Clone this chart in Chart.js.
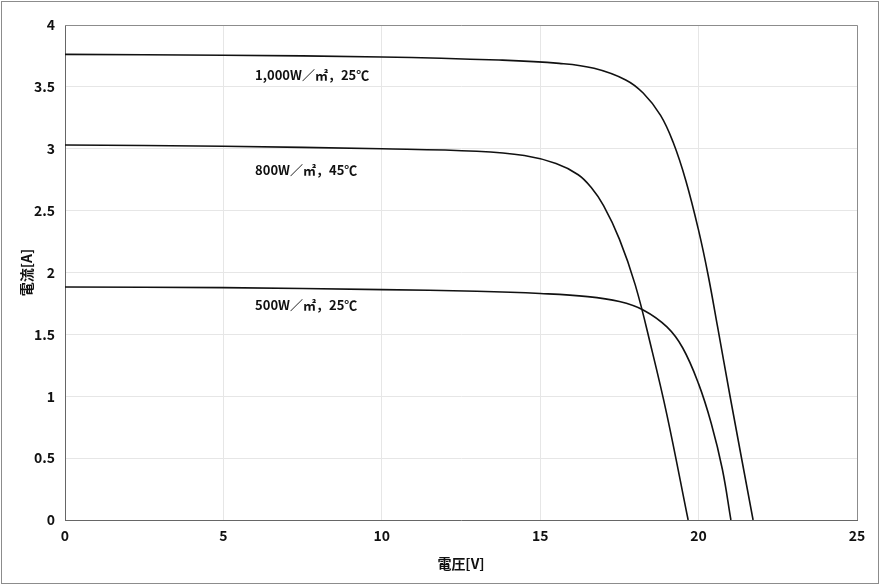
<!DOCTYPE html>
<html>
<head>
<meta charset="utf-8">
<script src="https://cdn.jsdelivr.net/npm/chart.js@4"></script>
<style>
  html, body { margin: 0; padding: 0; background: #fff; }
  #wrap { width: 881px; height: 585px; }
</style>
</head>
<body>
<div id="wrap"><canvas id="c" width="881" height="585"></canvas></div>
<script>
// ---- data ----
const seriesNames = ["1,000W／㎡，25℃", "800W／㎡，45℃", "500W／㎡，25℃"];
const v1000 = [0, 5, 10, 13.7, 15.6, 16.7, 17.7, 18.25, 18.8, 19.2, 19.6, 20.0, 20.3, 20.6, 21.0, 21.72];
const i1000 = [3.763, 3.755, 3.742, 3.717, 3.69, 3.65, 3.556, 3.45, 3.27, 3.05, 2.74, 2.34, 1.98, 1.56, 0.99, 0];
const v800 = [0, 5, 10, 13, 14.5, 15.5, 16.2, 16.6, 17.0, 17.5, 18.0, 18.5, 19.0, 19.67];
const i800 = [3.03, 3.02, 3.0, 2.98, 2.945, 2.88, 2.79, 2.69, 2.54, 2.27, 1.9, 1.4, 0.85, 0];
const v500 = [0, 5, 10, 13, 15, 16.5, 17.5, 18.25, 19.0, 19.5, 20.0, 20.4, 20.75, 21.02];
const i500 = [1.883, 1.878, 1.862, 1.848, 1.83, 1.805, 1.765, 1.697, 1.56, 1.39, 1.10, 0.78, 0.41, 0];
// label anchor positions (in data units)
const labelV = [6.0, 6.0, 6.0];
const labelI = [3.596, 2.828, 1.737];
const xTicks = [0, 5, 10, 15, 20, 25];
const yTickLabels = ["0", "0.5", "1", "1.5", "2", "2.5", "3", "3.5", "4"];
const xTitle = "電圧[V]";
const yTitle = "電流[A]";

const pts = (xs, ys) => xs.map((x, k) => ({ x: x, y: ys[k] }));
const FONT = "'Noto Sans CJK JP', 'Noto Sans', sans-serif";

const decor = {
  id: 'decor',
  beforeDraw(chart) {
    const ctx = chart.ctx;
    ctx.save();
    ctx.fillStyle = '#fff';
    ctx.fillRect(0, 0, chart.width, chart.height);
    ctx.strokeStyle = '#8c8c8c';
    ctx.lineWidth = 1;
    ctx.strokeRect(1.5, 1.5, 877, 582);
    ctx.restore();
  },
  afterDatasetsDraw(chart) {
    const ctx = chart.ctx;
    const a = chart.chartArea;
    ctx.save();
    ctx.strokeStyle = '#8c8c8c';
    ctx.lineWidth = 1;
    ctx.beginPath();
    ctx.moveTo(a.left, a.top + 0.5);
    ctx.lineTo(a.right + 0.5, a.top + 0.5);
    ctx.lineTo(a.right + 0.5, a.bottom);
    ctx.stroke();
    const xs = chart.scales.x, ys = chart.scales.y;
    ctx.fillStyle = '#111';
    ctx.font = "bold 13px " + FONT;
    ctx.textBaseline = 'middle';
    ctx.textAlign = 'left';
    for (let k = 0; k < seriesNames.length; k++) {
      ctx.fillText(seriesNames[k], xs.getPixelForValue(labelV[k]), ys.getPixelForValue(labelI[k]));
    }
    ctx.restore();
  }
};

const ds = (d) => ({
  data: d,
  showLine: true,
  borderColor: '#111',
  borderWidth: 1.6,
  pointRadius: 0,
  fill: false,
  tension: 0.4
});

new Chart(document.getElementById('c'), {
  type: 'scatter',
  data: {
    datasets: [ds(pts(v1000, i1000)), ds(pts(v800, i800)), ds(pts(v500, i500))]
  },
  options: {
    responsive: false,
    animation: false,
    layout: { padding: { top: 25, right: 24, left: 0, bottom: 0 } },
    plugins: { legend: { display: false }, tooltip: { enabled: false } },
    scales: {
      x: {
        type: 'linear', min: 0, max: 25,
        afterBuildTicks(s) { s.ticks = xTicks.map(v => ({ value: v })); },
        ticks: { color: '#111', font: { family: FONT, size: 14, weight: 'bold' }, padding: 7, maxRotation: 0,
                 callback: (v) => String(v) },
        grid: { color: '#e6e6e6', drawTicks: false },
        border: { color: '#666', width: 1 },
        title: { display: true, text: xTitle, color: '#111', font: { family: FONT, size: 14, weight: 'bold' }, padding: { top: 0, bottom: 13 } },
        afterFit(s) { s.height = 65; }
      },
      y: {
        type: 'linear', min: 0, max: 4,
        afterBuildTicks(s) { s.ticks = yTickLabels.map(t => ({ value: parseFloat(t) })); },
        ticks: { color: '#111', font: { family: FONT, size: 14, weight: 'bold' }, padding: 10,
                 callback: (v, idx) => yTickLabels[idx] },
        grid: { color: '#e6e6e6', drawTicks: false },
        border: { color: '#666', width: 1 },
        title: { display: true, text: yTitle, color: '#111', font: { family: FONT, size: 14, weight: 'bold' }, padding: { top: 18, bottom: 0 } },
        afterFit(s) { s.width = 65; }
      }
    }
  },
  plugins: [decor]
});
</script>
</body>
</html>
